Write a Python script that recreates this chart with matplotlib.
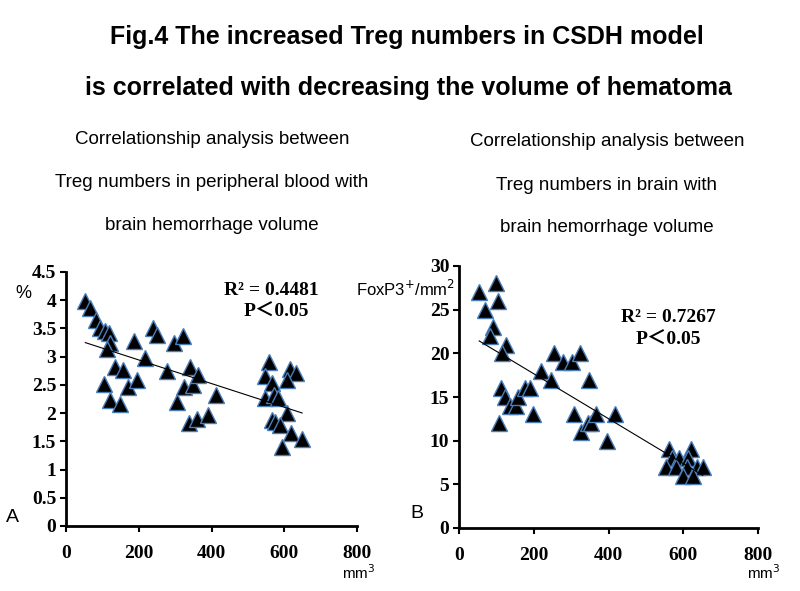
import numpy as np
import matplotlib.pyplot as plt

# panel A: Treg % in peripheral blood vs hematoma volume
vol_a = [53, 67, 83, 94, 108, 117, 122, 113, 188, 136, 157, 105, 170, 122, 149, 218, 195,
         240, 250, 277, 297, 321, 304, 325, 340, 348, 364, 339, 359, 391, 412,
         559, 548, 617, 633, 607, 566, 548, 571, 584, 607, 566, 575, 589, 618, 649, 595]
treg_a = [3.98, 3.86, 3.65, 3.51, 3.45, 3.42, 3.24, 3.13, 3.27, 2.81, 2.77, 2.51, 2.47, 2.23, 2.17, 2.97, 2.59,
          3.50, 3.39, 2.74, 3.25, 3.37, 2.20, 2.47, 2.82, 2.49, 2.68, 1.82, 1.89, 1.97, 2.32,
          2.90, 2.65, 2.78, 2.71, 2.58, 2.53, 2.26, 2.32, 2.27, 2.01, 1.87, 1.85, 1.79, 1.64, 1.55, 1.40]

# panel B: FoxP3+ cells per mm2 in brain vs hematoma volume
vol_b = [54, 69, 98, 105, 91, 84, 125, 116, 113, 122, 136, 153, 158, 176, 189, 107, 198,
         220, 247, 254, 278, 303, 325, 348, 308, 327, 345, 354, 367, 396, 417,
         562, 620, 569, 589, 612, 553, 580, 609, 636, 652, 598, 625]
treg_b = [27, 25, 28, 26, 23, 22, 21, 20, 16, 15, 14, 14, 15, 16, 16, 12, 13,
          18, 17, 20, 19, 19, 20, 17, 13, 11, 12, 12, 13, 10, 13,
          9, 9, 8, 8, 8, 7, 7, 7, 7, 7, 6, 6]

xticks = [0, 200, 400, 600, 800]
yticks_a = [0, 0.5, 1, 1.5, 2, 2.5, 3, 3.5, 4, 4.5]
yticks_b = [0, 5, 10, 15, 20, 25, 30]

sans = ['Liberation Sans', 'DejaVu Sans']
serif_b = ['Liberation Serif', 'Noto Sans CJK SC', 'DejaVu Serif']

fig = plt.figure(figsize=(8, 5.91), dpi=100)

fig.text(0.508, 1 - 37/591, "Fig.4 The increased Treg numbers in CSDH model", ha='center', va='center',
         fontsize=18, fontweight='bold', family=sans)
fig.text(0.51, 1 - 88/591, "is correlated with decreasing the volume of hematoma", ha='center', va='center',
         fontsize=18, fontweight='bold', family=sans)

sub_a = ["Correlationship analysis between", "Treg numbers in peripheral blood with", "brain hemorrhage volume"]
sub_b = ["Correlationship analysis between", "Treg numbers in brain with", "brain hemorrhage volume"]
for i, (ta, tb) in enumerate(zip(sub_a, sub_b)):
    y = 1 - (140 + 43*i)/591
    fig.text(212/800, y, ta, ha='center', va='center', fontsize=13.5, family=sans)
    fig.text(607/800, y - 2/591, tb, ha='center', va='center', fontsize=13.5, family=sans)

ax_a = fig.add_axes([66/800, 1 - 526/591, 291/800, 254/591])
ax_b = fig.add_axes([459/800, 1 - 528/591, 299/800, 262/591])

panels = [(ax_a, vol_a, treg_a, yticks_a, 4.5), (ax_b, vol_b, treg_b, yticks_b, 30)]
for ax, x, y, yt, ymax in panels:
    x = np.array(x)
    y = np.array(y)
    ax.plot(x, y, ls='none', marker='^', ms=11, mfc='black', mec='#4a7ebb', mew=1)
    # linear trend line
    k, b = np.polyfit(x, y, 1)
    xs = np.array([x.min(), x.max()])
    ax.plot(xs, k*xs + b, color='black', lw=0.8)
    ax.set_xlim(0, 800)
    ax.set_ylim(0, ymax)
    ax.set_xticks(xticks)
    ax.set_yticks(yt)
    ax.set_yticklabels([f"{v:g}" for v in yt])
    for s in ['top', 'right']:
        ax.spines[s].set_visible(False)
    for s in ['left', 'bottom']:
        ax.spines[s].set_linewidth(2)
    ax.tick_params(width=1.5, length=4, direction='out')
    ax.tick_params(axis='x', pad=10)
    ax.tick_params(axis='y', pad=3)
    for lab in ax.get_xticklabels() + ax.get_yticklabels():
        lab.set_family('Liberation Serif')
        lab.set_fontweight('bold')
        lab.set_fontsize(14)

fig.text(23/800, 1 - 293/591, "%", ha='center', va='center', fontsize=13, family=sans)
fig.text(12/800, 1 - 517/591, "A", ha='center', va='center', fontsize=14, family=sans)
fig.text(417/800, 1 - 513/591, "B", ha='center', va='center', fontsize=14, family=sans)
fig.text(359/800, 1 - 573/591, "mm$^3$", ha='center', va='center', fontsize=11, family=sans)
fig.text(764/800, 1 - 573/591, "mm$^3$", ha='center', va='center', fontsize=11, family=sans)
fig.text(455/800, 1 - 289/591, "FoxP3$^{+}$/mm$^2$", ha='right', va='center', fontsize=12, family=sans)

fig.text(271/800, 1 - 290/591, "R² = 0.4481", ha='center', va='center',
         fontsize=14, fontweight='bold', family=serif_b)
fig.text(276/800, 1 - 312/591, "P\uff1c0.05", ha='center', va='center',
         fontsize=14, fontweight='bold', family=serif_b)
fig.text(668/800, 1 - 318/591, "R² = 0.7267", ha='center', va='center',
         fontsize=14, fontweight='bold', family=serif_b)
fig.text(668/800, 1 - 340/591, "P\uff1c0.05", ha='center', va='center',
         fontsize=14, fontweight='bold', family=serif_b)

fig.savefig("out.png", dpi=100)
